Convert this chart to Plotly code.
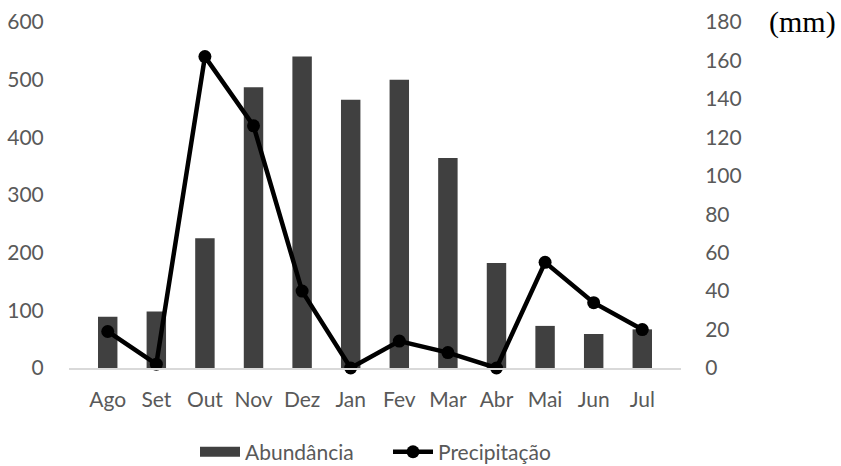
import plotly.graph_objects as go

# Monthly data: abundance (left axis) and rainfall in mm (right axis)
months = ["Ago", "Set", "Out", "Nov", "Dez", "Jan", "Fev", "Mar", "Abr", "Mai", "Jun", "Jul"]
abundancia = [89, 98, 225, 487, 540, 465, 500, 364, 182, 73, 59, 67]
precipitacao = [19, 2, 162, 126, 40, 0, 14, 8, 0, 55, 34, 20]

left_ticks = [0, 100, 200, 300, 400, 500, 600]
right_ticks = [0, 20, 40, 60, 80, 100, 120, 140, 160, 180]

TICK_FONT = dict(family="Lato, 'Open Sans', sans-serif", size=21, color="#595959")
BAR_COLOR = "#404040"

fig = go.Figure()

fig.add_trace(go.Bar(
    x=months,
    y=abundancia,
    name="Abundância",
    marker=dict(color=BAR_COLOR, line=dict(width=0)),
    yaxis="y",
    showlegend=False,
    legendgroup="abund",
))

# Wide rectangular swatch for the bar series in the legend
fig.add_trace(go.Scatter(
    x=[None],
    y=[None],
    name="Abundância",
    mode="lines",
    line=dict(color=BAR_COLOR, width=14),
    legendgroup="abund",
))

fig.add_trace(go.Scatter(
    x=months,
    y=precipitacao,
    name="Precipitação",
    mode="lines+markers",
    line=dict(color="#000000", width=4.5),
    marker=dict(color="#000000", size=13),
    yaxis="y2",
    cliponaxis=False,
))

fig.update_layout(
    width=841,
    height=466,
    margin=dict(l=69, r=160, t=22, b=98, autoexpand=False),
    paper_bgcolor="white",
    plot_bgcolor="white",
    bargap=0.6,
    showlegend=True,
    legend=dict(
        orientation="h",
        x=(195 - 69) / 612,
        xanchor="left",
        y=-0.243,
        yanchor="middle",
        font=TICK_FONT,
        itemwidth=40,
        entrywidth=138,
        traceorder="normal",
    ),
    xaxis=dict(
        showgrid=False,
        zeroline=False,
        showline=True,
        linecolor="#d9d9d9",
        linewidth=1.5,
        ticks="outside",
        ticklen=12,
        tickcolor="rgba(0,0,0,0)",
        tickfont=TICK_FONT,
    ),
    yaxis=dict(
        range=[0, 600],
        tickvals=left_ticks,
        showgrid=False,
        zeroline=False,
        showline=False,
        ticks="outside",
        ticklen=20,
        tickcolor="rgba(0,0,0,0)",
        tickfont=TICK_FONT,
    ),
    yaxis2=dict(
        range=[0, 180],
        tickvals=right_ticks,
        overlaying="y",
        side="right",
        showgrid=False,
        zeroline=False,
        showline=False,
        ticks="outside",
        ticklen=19,
        tickcolor="rgba(0,0,0,0)",
        tickfont=TICK_FONT,
    ),
    annotations=[
        dict(
            text="(mm)",
            xref="paper",
            yref="paper",
            x=1.0 + (802 - 681) / 612,
            y=1.0,
            xanchor="center",
            yanchor="middle",
            showarrow=False,
            font=dict(family="'Liberation Serif', 'Times New Roman', serif", size=30, color="#000000"),
        )
    ],
)

fig.write_html("out.html")
